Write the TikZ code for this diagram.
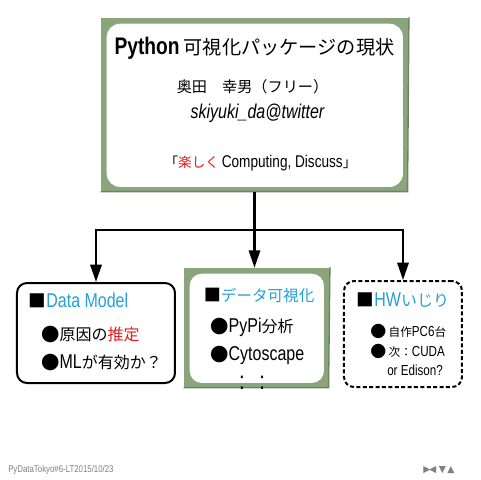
\documentclass[tikz,border=0pt]{standalone}
\usepackage{graphicx}
\usepackage{fontspec}
\setmainfont{Liberation Sans}[FakeStretch=0.8]
\newfontfamily\jpfont{Noto Sans CJK JP}[Scale=0.8]
\newfontfamily\symfont{DejaVu Sans}
\usetikzlibrary{arrows.meta,positioning,calc}
\definecolor{framegreen}{RGB}{138,164,124}
\definecolor{frameshade}{RGB}{108,132,98}
\definecolor{headblue}{RGB}{36,160,214}
\definecolor{jpred}{RGB}{226,28,30}
\newcommand\jp[1]{{\jpfont #1}}
\newcommand\bul{\raisebox{-0.06em}{\scalebox{1.15}{\jp{●}}}}
\newcommand\sqr{\raisebox{-0.04em}{\scalebox{1.1}{\jp{■}}}}

\begin{document}
\begin{tikzpicture}[x=0.75pt,y=-0.75pt,
  greenframe/.style={fill=framegreen,inner sep=0pt},
  roundbox/.style={draw,line width=1.5pt,rounded corners=7.5pt,inner sep=0pt},
  dashbox/.style={roundbox,dash pattern=on 3pt off 1.8pt},
  flow/.style={line width=1.6pt,-{Triangle[width=8.5pt,length=13pt]}},
  item/.style={anchor=base west,inner sep=0pt},
  line/.style={anchor=base,inner sep=0pt}]
\useasboundingbox (0,0) rectangle (480,480);
% boxes
\node[greenframe,minimum width=230.25pt,minimum height=130.5pt] (head) at (254.5,105) {};
\draw[frameshade,line width=1pt] ([shift={(0.5pt,0.5pt)}]head.north east) -- ([shift={(-0.5pt,0.5pt)}]head.south east) -- ([shift={(0pt,0.5pt)}]head.south west);
\fill[white,rounded corners=10pt] ([shift={(4.5pt,-4.5pt)}]head.north west) rectangle ([shift={(-4pt,4pt)}]head.south east);
\node[greenframe,minimum width=108.75pt,minimum height=90pt] (viz) at (256.5,328) {};
\draw[frameshade,line width=1pt] ([shift={(0.5pt,0.5pt)}]viz.north east) -- ([shift={(-0.5pt,0.5pt)}]viz.south east) -- ([shift={(0pt,0.5pt)}]viz.south west);
\fill[white,rounded corners=9pt] ([shift={(4.5pt,-4.5pt)}]viz.north west) rectangle ([shift={(-4pt,4pt)}]viz.south east);
\node[roundbox,minimum width=118.5pt,minimum height=75pt] (model) at (96,333) {};
\node[dashbox,minimum width=88.5pt,minimum height=79.5pt] (hw) at (403,334) {};
% connectors
\coordinate (bus) at (254.5,230);
\draw[line width=1.6pt] (head.south) -- (bus);
\draw[line width=1.6pt] ([xshift=-0.8pt]model.north |- bus) -- ([xshift=0.8pt]hw.north |- bus);
\draw[flow] (model.north |- bus) -- (model.north);
\draw[flow] (bus) -- (bus |- viz.north);
\draw[flow] (hw.north |- bus) -- (hw.north);
% title box texts
\node[line,font=\fontsize{18}{20}\selectfont\bfseries] (title) at (254.5,54) {Python\,\jp{\mdseries 可視化パッケージの現状}};
\node[line,font=\fontsize{14.2}{16}\selectfont] (author) at (252.5,92) {\jp{奥田　幸男（フリー）}};
\node[line,font=\fontsize{15}{17}\selectfont\itshape] (account) at (257.5,118) {skiyuki\_da@twitter};
\node[line,font=\fontsize{12.75}{14}\selectfont] (motto) at (260.5,167) {\jp{「\textcolor{jpred}{楽しく}}\,Computing, Discuss\jp{」}};
% Data Model
\node[item,font=\fontsize{15}{17}\selectfont] (modelhead) at (28.5,307) {\sqr\textcolor{headblue}{Data Model}};
\node[item,font=\fontsize{15}{17}\selectfont] (modelone) at (41,340) {\bul\jp{原因の\textcolor{jpred}{推定}}};
\node[item,font=\fontsize{15}{17}\selectfont] (modeltwo) at (41,368) {\bul ML\jp{が有効か？}};
% visualization
\node[item,font=\fontsize{14.6}{17}\selectfont] (vizhead) at (203.5,301) {\sqr\jp{\textcolor{headblue}{データ可視化}}};
\node[item,font=\fontsize{15}{17}\selectfont] (vizone) at (210,332) {\bul PyPi\jp{分析}};
\node[item,font=\fontsize{15}{17}\selectfont] (viztwo) at (210,360) {\bul Cytoscape};
\node[line,font=\fontsize{19}{21}\selectfont] (vizmore) at (252,389) {:\hspace{11pt}:};
% hardware
\node[item,font=\fontsize{15}{17}\selectfont] (hwhead) at (356.5,306) {\sqr\textcolor{headblue}{HW\jp{いじり}}};
\node[item,font=\fontsize{10.9}{12}\selectfont] (hwone) at (370,336) {{\fontsize{13}{15}\selectfont\bul}\,\jp{自作}PC6\jp{台}};
\node[item,font=\fontsize{10.9}{12}\selectfont] (hwtwo) at (370,356) {{\fontsize{13}{15}\selectfont\bul}\,\jp{次：}CUDA};
\node[item,font=\fontsize{10.9}{12}\selectfont] (hwthree) at (387,375) {or Edison?};
% footer
\node[item,font=\fontsize{7.35}{9}\selectfont,text=gray] (footer) at (8,472) {PyDataTokyo\#6-LT2015/10/23};
\node[item,font=\symfont\fontsize{7}{9}\selectfont,text=gray] (nav) at (423,472) {▶\kern-1pt◀\kern2pt▼\kern1pt▲};
\end{tikzpicture}
\end{document}
